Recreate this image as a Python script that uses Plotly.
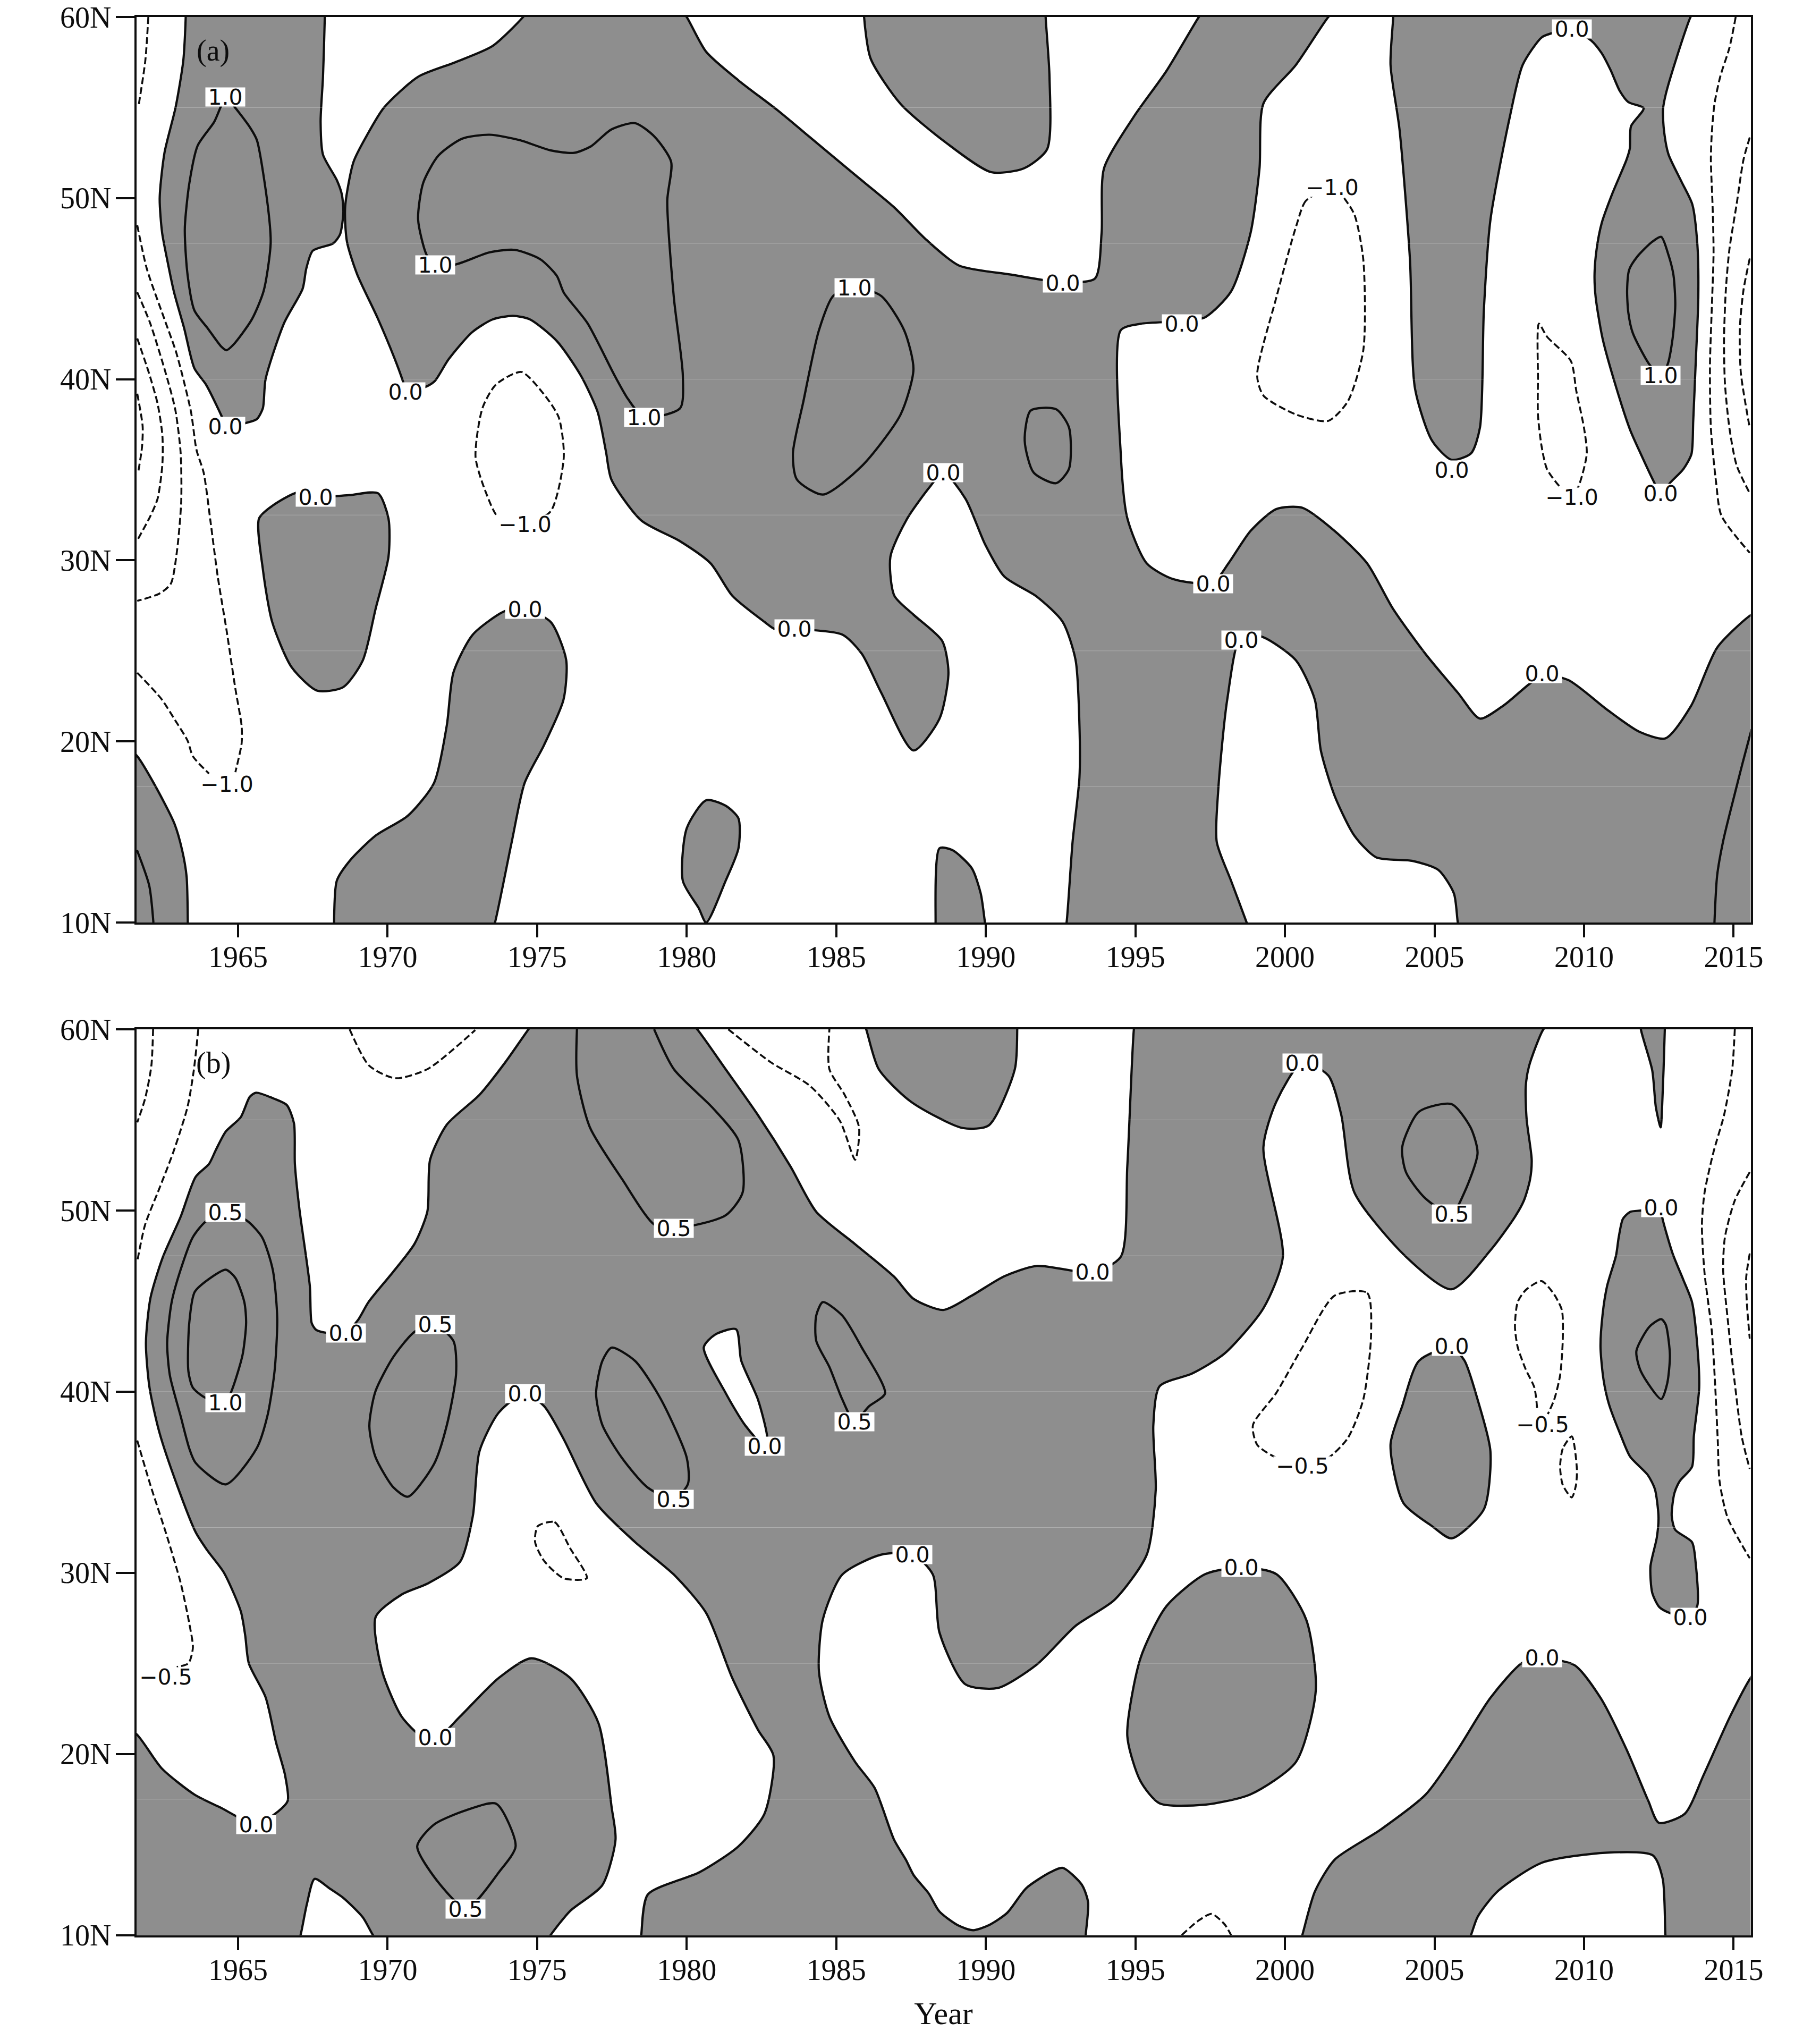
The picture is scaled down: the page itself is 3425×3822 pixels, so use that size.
import plotly.graph_objects as go

# ---------- axis content ----------
YEAR_TICKS = [1965, 1970, 1975, 1980, 1985, 1990, 1995, 2000, 2005, 2010, 2015]
LAT_TICKS = [10, 20, 30, 40, 50, 60]
LAT_TEXT = ["10N", "20N", "30N", "40N", "50N", "60N"]
SEAM_LATS = [55, 47.5, 40, 32.5, 25, 17.5]

# ---------- panel (a): shaded regions (year, latitude) ----------
A_MAIN = [(1974.53,60),(1974.7,60.4),(1979.8,60.4),(1980,60),(1980.65,58.08),(1981.73,56.5),(1983.03,54.86),(1984.33,53.07),(1985.63,51.28),(1986.93,49.5),(1988.01,47.7),(1989.1,46.28),(1990.83,45.78),(1992.57,45.35),(1993.65,45.56),(1993.87,48.07),(1993.95,51.64),(1994.95,54.5),(1996.03,57),(1997.12,60),(1997.3,60.4),(2001.7,60.4),(2001.45,60),(2000.37,57.36),(1999.28,55.22),(1999.15,51.64),(1998.85,48.07),(1998.2,44.85),(1997.33,43.42),(1996.55,43.2),(1995.17,43.06),(1994.51,42.7),(1994.51,35.91),(1994.73,32.33),(1995.38,29.83),(1996.25,28.97),(1997.59,28.76),(1998.11,29.83),(1998.85,31.62),(1999.71,32.83),(2000.58,32.9),(2001.66,31.62),(2002.75,29.83),(2003.61,27.33),(2004.7,24.83),(2005.78,22.69),(2006.52,21.26),(2007.3,21.97),(2008.6,23.62),(2009.47,23.39),(2010.77,21.75),(2011.85,20.53),(2012.72,20.17),(2013.58,21.97),(2014.45,25.18),(2015.57,26.97),(2016,27.3),(2016,9.6),(2005.85,9.6),(2005.78,10),(2005.65,11.6),(2005.13,12.9),(2004.27,13.4),(2003.05,13.6),(2002.32,14.8),(2001.66,17),(2001.2,19.5),(2001,22.3),(2000.37,24.47),(1999.28,25.75),(1998.55,25.9),(1998.07,22.3),(1997.77,17.3),(1997.72,14.45),(1998.2,12.3),(1998.72,10),(1998.8,9.6),(1992.65,9.6),(1992.7,10),(1992.9,14.45),(1993.13,18),(1993.13,20.9),(1993,24.5),(1992.57,26.6),(1991.7,28),(1990.62,29.1),(1989.97,30.9),(1989.32,33.4),(1988.58,34.85),(1988.15,34.1),(1987.37,32.3),(1986.81,30.2),(1986.94,28.05),(1987.58,27),(1988.54,25.55),(1988.75,23.8),(1988.45,21.25),(1987.58,19.5),(1986.5,22.7),(1985.85,24.85),(1985.2,25.9),(1983.6,26.2),(1982.95,26.2),(1982.6,26.6),(1981.52,28.05),(1980.8,29.83),(1979.78,31.05),(1978.48,32.2),(1977.48,34.47),(1977.3,36),(1977.02,38.2),(1976.46,40.2),(1975.66,42.1),(1974.76,43.3),(1974.19,43.5),(1973.51,43.3),(1972.83,42.6),(1972.04,41.1),(1971.58,39.9),(1971.3,39.6),(1970.62,39.3),(1970.51,39.9),(1970.22,41.2),(1969.66,43.4),(1968.98,45.8),(1968.64,47.6),(1968.58,49.5),(1968.86,52),(1969.32,53.5),(1969.88,55),(1971.02,56.7),(1972.26,57.5),(1973.51,58.4),(1974.53,60)]
A_LEFT = [(1963.25,60.4),(1963.25,60),(1963.17,57.6),(1962.91,55),(1962.54,52.5),(1962.38,50),(1962.46,48.1),(1962.63,46.6),(1962.86,44.8),(1963.2,42.8),(1963.54,40.6),(1963.93,39.7),(1964.44,38),(1964.6,37.4),(1965.3,37.6),(1965.63,37.8),(1965.83,38.4),(1965.92,40),(1966.54,43.1),(1967.16,45),(1967.28,46.1),(1967.5,47.1),(1968.18,47.5),(1968.41,48),(1968.52,49.2),(1968.47,50.2),(1968.3,51),(1967.84,52.4),(1967.76,54.2),(1967.84,56.7),(1967.9,60),(1967.9,60.4),(1963.25,60.4)]
A_TOPMID = [(1985.93,60.4),(1985.93,60),(1986.15,57.7),(1987.15,55.2),(1988.66,53.07),(1990.18,51.43),(1991.27,51.64),(1992.05,52.7),(1992.13,56.65),(1992,60),(1992,60.4),(1985.93,60.4)]
A_TOPRIGHT = [(2003.62,60.4),(2013.7,60.4),(2013.56,60),(2013.08,57.68),(2012.73,55.72),(2012.64,54.9),(2012.67,53.77),(2012.82,52.43),(2013.26,50.9),(2013.62,49.65),(2013.79,47.4),(2013.82,44.5),(2013.73,40.8),(2013.65,37.7),(2013.59,35.86),(2013.32,35.04),(2012.9,34.32),(2012.56,33.7),(2012.34,34.32),(2011.9,35.86),(2011.54,37.2),(2011.07,39.57),(2010.62,42.24),(2010.39,44.5),(2010.35,45.74),(2010.42,47.18),(2010.59,48.62),(2010.95,50.27),(2011.42,52.12),(2011.53,52.74),(2011.57,53.97),(2011.99,54.96),(2011.48,55.3),(2011.19,55.93),(2010.89,57.06),(2010.59,58),(2010.24,58.7),(2009.59,59.32),(2008.91,59.1),(2008.58,58.87),(2007.95,57.36),(2007.52,54.5),(2006.87,48.8),(2006.65,43.8),(2006.52,37.33),(2006.22,35.9),(2005.57,35.55),(2004.92,36.6),(2004.35,39.47),(2004.18,46.6),(2003.83,53.8),(2003.53,57.36),(2003.62,60),(2003.62,60.4)]
A_BOT1 = [(1968.21,9.6),(1968.21,10),(1968.3,12.3),(1968.73,13.4),(1969.6,14.8),(1970.68,15.9),(1971.55,17.7),(1971.98,20.9),(1972.2,23.8),(1972.85,25.9),(1973.93,27.2),(1974.58,27.3),(1975.45,26.6),(1975.97,24.5),(1975.88,22.3),(1975.23,19.8),(1974.58,17.7),(1974.15,14.45),(1973.59,10),(1973.5,9.6),(1968.21,9.6)]
A_BOT2 = [(1979.87,12.3),(1980,15.2),(1980.65,16.75),(1981.3,16.45),(1981.73,15.75),(1981.73,14.1),(1981.3,12.3),(1980.65,10),(1980.4,10.8),(1979.87,12.3)]
A_BOT3 = [(1988.32,9.6),(1988.32,10),(1988.45,14.1),(1988.88,14),(1989.53,13),(1989.83,11.6),(1989.97,10),(1990,9.6),(1988.32,9.6)]
A_OVAL = [(1965.7,32.3),(1966.14,33),(1967,33.75),(1967.65,33.5),(1968.73,33.6),(1969.68,33.7),(1970.03,32.3),(1970.03,30.2),(1969.6,27.33),(1969.17,24.47),(1968.52,23),(1967.65,22.8),(1966.79,24.1),(1966.14,26.6),(1965.83,29.5),(1965.7,32.3)]
A_CORNER = [(1961.2,19.8),(1961.63,19.18),(1962.19,17.67),(1962.87,15.47),(1963.13,14),(1963.28,12.54),(1963.32,10),(1963.32,9.6),(1961.2,9.6),(1961.2,19.8)]
A_SHADED = [A_MAIN, A_LEFT, A_TOPMID, A_TOPRIGHT, A_BOT1, A_BOT2, A_BOT3, A_OVAL, A_CORNER]

# ---------- panel (a): solid contours inside the shading ----------
A_S1 = [(1964.6,55.55),(1964.2,54.2),(1963.65,52.9),(1963.37,50.8),(1963.22,48.3),(1963.31,45.8),(1963.54,43.8),(1963.99,42.8),(1964.44,41.8),(1964.61,41.6),(1964.84,41.9),(1965.46,43.3),(1965.86,44.9),(1966.09,47.5),(1966,49.5),(1965.63,53.2),(1965.4,53.9),(1964.9,55),(1964.6,55.55)]
A_S2 = [(1971.58,46.3),(1971.3,46.88),(1971.02,48.82),(1971.19,50.84),(1971.7,52.35),(1972.49,53.28),(1973.4,53.5),(1974.42,53.2),(1975.44,52.64),(1976.23,52.5),(1976.8,52.86),(1977.48,53.79),(1978.27,54.14),(1978.92,53.4),(1979.48,52),(1979.35,49.85),(1979.57,44.5),(1979.87,40.2),(1979.78,38.4),(1978.57,37.9),(1978.04,38.9),(1977.59,40.2),(1976.68,43.1),(1975.89,44.78),(1975.66,45.7),(1975.1,46.63),(1974.25,47.14),(1973.4,47),(1972.26,46.33),(1971.58,46.3)]
A_S3 = [(1985.63,45.06),(1986.5,44.6),(1987.27,42.7),(1987.58,40.55),(1987.15,38.05),(1985.85,35.2),(1984.55,33.63),(1983.68,34.47),(1983.55,35.9),(1983.9,38.77),(1984.42,42.7),(1984.9,44.6),(1985.63,45.06)]
A_S4 = [(1991.5,38.27),(1992.35,38.34),(1992.78,37.34),(1992.78,35.05),(1992.35,34.26),(1991.6,34.84),(1991.3,36.6),(1991.5,38.27)]
A_S5 = [(2012.58,47.86),(2012.28,47.59),(2011.78,46.77),(2011.51,46.05),(2011.44,44.92),(2011.48,43.68),(2011.63,42.55),(2012.19,40.8),(2012.56,40.19),(2012.79,40.8),(2012.96,42.24),(2013.05,44.1),(2012.99,45.74),(2012.82,46.87),(2012.58,47.86)]
A_S6 = [(2014.36,10),(2014.45,12.6),(2014.66,14.57),(2015.01,16.92),(2015.3,18.8),(2015.6,20.67)]
A_S7 = [(1961.62,14),(1962.03,12.04),(1962.17,10)]
A_SOLID = [A_S1, A_S2, A_S3, A_S4, A_S5, A_S6, A_S7]

# ---------- panel (a): dashed contours ----------
A_D1 = [(1962,60),(1961.9,57.6),(1961.67,55.05)]
A_D2 = [(1961.63,39.2),(1961.81,37.4),(1961.79,36.27),(1961.66,34.84)]
A_D3 = [(1961.63,42.25),(1962.01,40.4),(1962.31,38.65),(1962.47,36.9),(1962.47,35.3),(1962.31,33.4),(1962.07,32.45),(1961.63,31.1)]
A_D4 = [(1961.63,44.8),(1962.06,43.1),(1962.57,40.4),(1962.9,38.33),(1963.08,35.95),(1963.1,33.25),(1962.96,30.54),(1962.75,28.7),(1962.37,28.16),(1961.63,27.76)]
A_D5 = [(1961.63,48.5),(1961.95,46.1),(1962.52,43.4),(1962.91,41.6),(1963.11,40.4),(1963.43,38.17),(1963.61,36.1),(1963.85,34.84),(1964.08,32.13),(1964.32,29.11),(1964.62,26.09),(1964.91,22.91),(1965.12,20.84),(1965.12,19.9),(1964.91,18.3)]
A_D6 = [(1961.63,23.79),(1962.43,22.36),(1962.9,21.16),(1963.31,20.05),(1963.49,19.18),(1964.03,18.22)]
A_D7 = [(1974.47,40.4),(1973.62,39.7),(1973.17,38.4),(1972.94,35.7),(1973.28,33.77),(1973.72,32.33),(1974.6,32),(1975.45,32.7),(1975.89,35.7),(1975.72,37.9),(1975.21,39.2),(1974.47,40.4)]
A_D8 = [(2001.58,50.6),(2000.7,49.85),(2000.37,48.42),(1999.71,44.5),(1999.07,40.2),(1999.28,39.1),(2000.37,38.05),(2001.45,37.7),(2002.1,38.77),(2002.62,41.6),(2002.62,46.6),(2002.32,49.1),(2001.88,50.2),(2001.58,50.6)]
A_D9 = [(2008.49,43.07),(2008.76,42.35),(2009.56,41),(2009.74,39.36),(2010,37.3),(2010.09,35.86),(2009.82,34.1),(2009.59,33.5),(2009.17,34.1),(2008.76,35.04),(2008.58,36.3),(2008.46,38),(2008.46,40),(2008.49,43.07)]
A_D10 = [(2015.07,60),(2014.86,58.3),(2014.56,56.75),(2014.36,55.2),(2014.27,53.56),(2014.24,52.12),(2014.3,49.44),(2014.33,46.97),(2014.27,43.89),(2014.21,40.8),(2014.24,37.3),(2014.42,34.22),(2014.59,32.47),(2015.54,30.41)]
A_D11 = [(2015.54,53.35),(2015.33,52.12),(2015.1,49.65),(2014.86,47.18),(2014.74,44.92),(2014.68,42.24),(2014.71,39.77),(2014.86,37.3),(2015.1,35.25),(2015.54,33.7)]
A_D12 = [(2015.54,46.67),(2015.33,44.92),(2015.21,42.86),(2015.24,40.39),(2015.54,37.3)]
A_DASHED = [A_D1, A_D2, A_D3, A_D4, A_D5, A_D6, A_D7, A_D8, A_D9, A_D10, A_D11, A_D12]

# ---------- panel (a): contour labels ----------
A_LABELS = [("1.0",1964.58,55.57),("0.0",1964.58,37.4),("1.0",1971.6,46.3),("0.0",1970.6,39.3),("1.0",1978.57,37.9),("0.0",1967.6,33.5),("\u22121.0",1974.6,32),("0.0",1974.6,27.3),("0.0",1983.6,26.2),("1.0",1985.6,45.05),("0.0",1988.58,34.85),("0.0",1992.57,45.3),("0.0",1996.55,43.05),("0.0",1997.6,28.7),("0.0",1998.55,25.6),("\u22121.0",2001.58,50.6),("0.0",2005.57,35),("0.0",2008.6,23.75),("0.0",2009.6,59.35),("\u22121.0",2009.6,33.5),("0.0",2012.56,33.7),("1.0",2012.56,40.2),("\u22121.0",1964.62,17.63)]

# ---------- panel (b): shaded regions ----------
B_MAIN = [(1974.71,60),(1974.9,60.4),(1980.1,60.4),(1980.35,60),(1981.3,57.8),(1982.38,55.27),(1983.47,52.43),(1984.33,49.93),(1985.63,48.14),(1986.93,46.35),(1987.58,45.13),(1988.58,44.51),(1989.53,45.3),(1990.62,46.37),(1991.7,46.94),(1993.56,46.59),(1994.51,47.44),(1994.73,52.45),(1994.95,60),(1995,60.4),(2008.9,60.4),(2008.64,60),(2008.16,57.96),(2008.05,56.83),(2008.08,55.04),(2008.25,52.79),(2008.19,51.67),(2007.99,50.55),(2007.69,49.65),(2006.87,47.8),(2005.57,45.65),(2004.05,47.44),(2002.32,51),(2001.88,55.3),(2001.45,57.45),(2000.58,58.17),(1999.71,56),(1999.28,53.5),(1999.93,47.44),(1999.28,44.6),(1997.98,42.1),(1996.9,41),(1995.81,40.3),(1995.6,38.15),(1995.68,34.57),(1995.38,31),(1994.3,28.5),(1993,27.07),(1991.7,24.93),(1990.4,23.64),(1989.31,23.85),(1988.45,26.7),(1988.23,29.9),(1987.58,31),(1986.5,31),(1985.2,29.9),(1984.55,27.42),(1984.42,24.56),(1984.77,22.06),(1985.63,19.56),(1986.28,18.13),(1986.93,15.27),(1987.33,14.15),(1987.59,13.3),(1988.09,12.3),(1988.45,11.3),(1989.08,10.53),(1989.58,10.27),(1990.08,10.53),(1990.71,11.22),(1991.35,12.59),(1992.16,13.47),(1992.57,13.71),(1993.21,12.78),(1993.42,11.8),(1993.34,10),(1993.34,9.6),(1978.45,9.6),(1978.48,10),(1978.7,12.24),(1980.43,13.47),(1981.73,14.9),(1982.6,16.7),(1982.9,19.9),(1982.38,21.34),(1981.52,24.2),(1980.65,27.78),(1979.57,29.9),(1978.27,31.7),(1976.97,33.85),(1975.88,37.4),(1975.23,39.2),(1974.58,39.9),(1973.72,38.85),(1973.07,36.7),(1972.85,33.14),(1972.42,30.6),(1971.33,29.4),(1970.47,28.8),(1969.6,27.56),(1969.82,24.56),(1970.47,22.06),(1971.12,21),(1971.68,20.9),(1972.42,22.06),(1973.72,24.2),(1974.8,25.28),(1976.1,24.2),(1977.05,21.7),(1977.49,17.05),(1977.62,15.27),(1977.18,12.76),(1976.1,11.33),(1975.45,10),(1975.3,9.6),(1969.7,9.6),(1969.51,10),(1969.17,10.98),(1968.52,12.05),(1968.08,12.55),(1967.56,13.1),(1967.3,11.7),(1967.09,10),(1967,9.6),(1961.2,9.6),(1961.2,21.4),(1961.6,21.1),(1962.45,19.2),(1963.54,17.76),(1964.4,17.05),(1965.6,16.12),(1966.35,16.84),(1966.66,17.41),(1966.57,18.84),(1966.27,20.63),(1965.92,23.13),(1965.36,25),(1965.24,26.53),(1965.09,27.88),(1964.53,30),(1963.97,31.24),(1963.58,32.25),(1962.96,34.84),(1962.37,37.75),(1962.04,40.22),(1961.92,42.69),(1962.07,45.16),(1962.48,47.4),(1963.08,49.65),(1963.58,51.85),(1964.03,52.57),(1964.26,53.35),(1964.59,54.36),(1965.09,55.15),(1965.39,56.27),(1965.6,56.5),(1966.22,56.16),(1966.63,55.82),(1966.87,54.81),(1966.9,52.57),(1967.05,50.1),(1967.4,45.83),(1967.46,43.8),(1967.61,43.41),(1967.94,43.25),(1968.59,43.25),(1969,43.93),(1969.36,44.94),(1970.19,46.62),(1970.9,48.16),(1971.33,49.95),(1971.42,52.8),(1971.98,54.74),(1973.07,56.38),(1973.93,58.17),(1974.71,60)]
B_TOPMID = [(1985.9,60.4),(1986,60),(1986.42,57.8),(1987.5,56),(1989.23,54.55),(1990.1,54.7),(1990.97,57.8),(1991.05,60),(1991.05,60.4),(1985.9,60.4)]
B_G1 = [(1998.55,30.3),(1999.72,29.92),(2000.71,27.42),(2001.03,23.5),(2000.37,19.56),(1998.85,17.77),(1997.33,17.2),(1995.81,17.27),(1995.17,18.5),(1994.73,21),(1995.17,25.28),(1996.03,28.14),(1997.33,29.92),(1998.55,30.3)]
B_G2 = [(2005.57,42.44),(2006,41.72),(2006.44,39.57),(2006.87,36.7),(2006.65,33.5),(2005.57,31.9),(2004.92,32.57),(2003.96,33.85),(2003.53,37.07),(2003.92,39.2),(2004.48,41.7),(2005.57,42.44)]
B_G3 = [(2012.58,50.17),(2011.93,50),(2011.54,49.92),(2011.3,49.54),(2011.16,48.53),(2011.07,47.52),(2010.77,45.83),(2010.62,44.26),(2010.55,42.47),(2010.65,40.67),(2010.83,39.32),(2011.24,37.53),(2011.54,36.41),(2012.13,35.4),(2012.37,34.61),(2012.49,33.04),(2012.43,31.92),(2012.22,30.35),(2012.28,28.89),(2012.52,28.1),(2012.9,27.76),(2013.55,27.54),(2013.79,28.21),(2013.73,30.57),(2013.61,31.69),(2013.05,32.37),(2012.93,33.15),(2013.02,34.39),(2013.2,35.06),(2013.61,35.85),(2013.67,37.53),(2013.85,40.22),(2013.79,42.47),(2013.61,44.94),(2013.32,46.17),(2012.96,47.63),(2012.61,49.65),(2012.58,50.17)]
B_G4 = [(2011.9,60.4),(2011.9,60),(2012.28,57.73),(2012.4,55.71),(2012.56,54.59),(2012.61,55.71),(2012.7,60),(2012.7,60.4),(2011.9,60.4)]
B_G5 = [(2000.5,9.6),(2000.58,10),(2001,12.4),(2001.66,14.16),(2003.18,15.8),(2004.7,17.75),(2005.78,20.25),(2006.87,23.1),(2007.95,25.05),(2008.6,25.28),(2009.68,24.9),(2010.55,23.1),(2011.42,20.25),(2012.15,17.4),(2012.5,16.2),(2013.37,16.7),(2014,18.85),(2014.88,22.06),(2015.57,24.2),(2016,25),(2016,9.6),(2012.75,9.6),(2012.72,10),(2012.63,13.1),(2012.3,14.4),(2010.77,14.55),(2008.6,14),(2007.1,12.4),(2006.44,11),(2006.22,10),(2006.1,9.6),(2000.5,9.6)]
B_SHADED = [B_MAIN, B_TOPMID, B_G1, B_G2, B_G3, B_G4, B_G5]
B_HOLE = [(1980.57,42.44),(1980.95,43.15),(1981.65,43.44),(1981.82,41.72),(1982.38,39.57),(1982.69,37.43),(1982.6,37),(1981.95,38.15),(1981.3,39.93),(1980.57,42.44)]

# ---------- panel (b): solid contours ----------
B_S1 = [(1964.59,49.92),(1965.3,49.43),(1965.8,48.53),(1966.16,46.73),(1966.31,44.04),(1966.22,41.12),(1965.98,38.65),(1965.62,36.86),(1964.59,34.88),(1963.58,36.07),(1963.37,36.86),(1963.08,38.65),(1962.72,40.9),(1962.63,42.69),(1962.78,44.94),(1963.08,46.73),(1963.49,48.53),(1963.91,49.38),(1964.59,49.92)]
B_S2 = [(1964.59,39.44),(1964.8,40.11),(1965.15,42.02),(1965.27,43.81),(1965.21,44.94),(1964.91,46.28),(1964.59,46.73),(1964.08,46.28),(1963.55,45.5),(1963.37,43.81),(1963.34,41.12),(1963.49,40.22),(1963.91,39.66),(1964.59,39.44)]
B_S3 = [(1971.55,43.72),(1972.2,42.8),(1972.29,41),(1971.98,38.15),(1971.55,36),(1970.68,34.2),(1970.19,34.72),(1969.59,36.41),(1969.39,38.09),(1969.59,40),(1970.19,41.91),(1970.9,43.3),(1971.55,43.72)]
B_S4 = [(1977.49,42.43),(1978.27,41.7),(1979.13,39.6),(1980,36.35),(1980.04,34.9),(1979.57,34.07),(1978.7,34.7),(1977.83,36.35),(1977.18,38.15),(1976.97,39.9),(1977.18,41.7),(1977.49,42.43)]
B_S5 = [(1984.55,44.94),(1985.2,44.2),(1985.85,42.44),(1986.63,39.9),(1986.1,39.2),(1985.6,38.37),(1985.2,39.57),(1984.77,41.36),(1984.33,42.8),(1984.33,44.2),(1984.55,44.94)]
B_S6 = [(1970.99,14.9),(1971.55,16.1),(1972.64,16.9),(1973.63,17.25),(1974.28,14.9),(1973.72,13.47),(1972.64,11.47),(1971.77,12.76),(1970.99,14.9)]
B_S7 = [(1976.33,60),(1976.33,57.45),(1976.76,54.6),(1977.84,51.73),(1978.91,49.23),(1979.57,49),(1981.3,49.73),(1981.87,51),(1981.73,53.87),(1980.87,55.66),(1979.57,57.8),(1978.91,60)]
B_S8 = [(2003.92,53.5),(2004.48,55.45),(2005.57,55.87),(2006.2,54.6),(2006.44,53.17),(2006,51),(2005.57,49.8),(2004.7,50.66),(2004.05,52.1),(2003.92,53.5)]
B_S9 = [(2012.58,44),(2012.19,43.59),(2011.75,42.24),(2011.9,41.12),(2012.58,39.59),(2012.78,40.45),(2012.87,42.02),(2012.73,43.7),(2012.58,44)]
B_SOLID = [B_S1, B_S2, B_S3, B_S4, B_S5, B_S6, B_S7, B_S8, B_S9]

# ---------- panel (b): dashed contours ----------
B_D1 = [(1962.16,60),(1962.1,57.96),(1961.89,56.16),(1961.63,54.86)]
B_D2 = [(1963.67,60),(1963.52,57.73),(1963.31,55.71),(1962.84,53.24),(1962.37,51.22),(1961.89,49.2),(1961.63,47.18)]
B_D3 = [(1961.63,37.3),(1962.07,34.84),(1962.6,32.14),(1963.08,29.45),(1963.37,27.2),(1963.49,25.86),(1963.34,25),(1962.95,24.8)]
B_D4 = [(1968.73,60),(1969.38,58),(1970.25,57.3),(1971.33,57.8),(1972.93,59.96)]
B_D5 = [(1981.39,60),(1982.82,58.17),(1984.12,56.88),(1985.12,54.95),(1985.63,52.8),(1985.76,54.6),(1985.28,56.38),(1984.77,57.8),(1984.77,60)]
B_D6 = [(1996.55,10),(1997.11,10.8),(1997.55,11.17),(1997.98,10.6),(1998.2,10)]
B_D7 = [(2001.66,45.3),(2002.75,45.45),(2002.88,43.15),(2002.62,39.57),(2002.1,37.43),(2001.45,36.35),(2000.58,35.9),(1999.71,36.35),(1999.07,37.07),(1998.93,38.15),(1999.71,39.93),(2000.58,42.44),(2001.66,45.3)]
B_D8 = [(1975.02,32.57),(1975.58,32.8),(1976.1,31.36),(1976.66,29.7),(1975.88,29.7),(1975.23,30.66),(1974.93,31.7),(1975.02,32.57)]
B_D9 = [(2008.43,39.1),(2008.34,40.22),(2008.05,41.23),(2007.78,42.47),(2007.69,43.59),(2007.78,44.94),(2008.05,45.61),(2008.58,46.1),(2008.99,45.39),(2009.26,44.49),(2009.29,42.92),(2009.2,40.9),(2009,39.55),(2008.79,38.76)]
B_D10 = [(2009.59,37.53),(2009.29,36.86),(2009.2,35.85),(2009.29,34.84),(2009.59,34.16),(2009.73,34.84),(2009.76,35.73),(2009.59,37.53)]
B_D11 = [(2015.04,60),(2014.95,57.73),(2014.68,55.26),(2014.33,53.24),(2014.03,51),(2013.94,49.2),(2014.03,46.51),(2014.27,43.36),(2014.38,40.45),(2014.47,37.3),(2014.53,35.06),(2014.8,33.04),(2015.54,30.8)]
B_D12 = [(2015.54,52.12),(2015.04,50.55),(2014.71,48.53),(2014.65,46.73),(2014.8,44.04),(2015.04,40.45),(2015.27,37.53),(2015.54,35.73)]
B_D13 = [(2015.54,47.63),(2015.42,46.28),(2015.45,44.71),(2015.54,42.92)]
B_DASHED = [B_D1, B_D2, B_D3, B_D4, B_D5, B_D6, B_D7, B_D8, B_D9, B_D10, B_D11, B_D12, B_D13]

# ---------- panel (b): contour labels ----------
B_LABELS = [("0.5",1964.58,49.9),("1.0",1964.58,39.4),("0.0",1968.6,43.25),("0.5",1971.6,43.7),("0.0",1974.6,39.9),("0.5",1979.57,49),("0.0",1982.6,37),("0.5",1985.6,38.35),("0.5",1979.57,34.05),("0.0",1987.55,31),("0.0",1993.56,46.6),("0.0",2000.58,58.15),("\u22120.5",2000.58,35.9),("0.5",2005.57,49.8),("0.0",2005.57,42.5),("\u22120.5",2008.61,38.2),("0.0",2012.58,50.17),("0.0",2013.55,27.54),("0.0",1998.55,30.3),("0.0",2008.6,25.3),("0.0",1971.6,20.9),("0.0",1965.6,16.1),("0.5",1972.6,11.45),("\u22120.5",1962.58,24.27)]

# ---------- styles ----------
GRAY = "#8e8e8e"
INK = "#0d0d0d"
SERIF = "Liberation Serif"
W, H = 3425, 3822

fig = go.Figure()


def add_curve(points, ax, dashed=False, fill=None):
    line = dict(color=INK, width=4.2, shape="spline", smoothing=0.7, simplify=False)
    if dashed:
        line["dash"] = "13px,6px"
        line["width"] = 3.6
    fig.add_trace(go.Scatter(
        x=[p[0] for p in points], y=[p[1] for p in points], mode="lines",
        line=line, fill="toself" if fill else "none", fillcolor=fill,
        xaxis=ax[0], yaxis=ax[1], showlegend=False, hoverinfo="skip"))


def add_seams(ax):
    xs, ys = [], []
    for lat in SEAM_LATS:
        xs += [1961.6, 2015.57, None]
        ys += [lat, lat, None]
    fig.add_trace(go.Scatter(x=xs, y=ys, mode="lines",
                             line=dict(color="rgba(255,255,255,0.28)", width=1),
                             xaxis=ax[0], yaxis=ax[1], showlegend=False, hoverinfo="skip"))


def add_panel(shaded, holes, solid, dashed, labels, ax, tag):
    for poly in shaded:
        add_curve(poly, ax, fill=GRAY)
    add_seams(ax)
    for poly in holes:
        add_curve(poly, ax, fill="#ffffff")
    for c in solid:
        add_curve(c, ax)
    for c in dashed:
        add_curve(c, ax, dashed=True)
    for text, x, y in labels:
        fig.add_annotation(x=x, y=y, xref=ax[0], yref=ax[1], text=text, showarrow=False,
                           font=dict(family="DejaVu Sans", size=41, color=INK),
                           bgcolor="#ffffff", borderpad=0,
                           width=108 if text.startswith("\u2212") else 74, height=35,
                           xanchor="center", yanchor="middle")
    fig.add_annotation(x=1964.17, y=58.15, xref=ax[0], yref=ax[1], text=tag, showarrow=False,
                       font=dict(family=SERIF, size=56, color=INK),
                       xanchor="center", yanchor="middle")


add_panel(A_SHADED, [], A_SOLID, A_DASHED, A_LABELS, ("x", "y"), "(a)")
add_panel(B_SHADED, [B_HOLE], B_SOLID, B_DASHED, B_LABELS, ("x2", "y2"), "(b)")

xaxis_style = dict(range=[1961.6, 2015.57], tickmode="array", tickvals=YEAR_TICKS,
                   ticktext=[str(v) for v in YEAR_TICKS], ticks="outside", ticklen=24, tickwidth=4,
                   tickcolor=INK, showline=True, linewidth=4, linecolor=INK, mirror=True,
                   showgrid=False, zeroline=False, fixedrange=True, automargin=False,
                   ticklabelstandoff=-11,
                   tickfont=dict(family=SERIF, size=56, color=INK))
yaxis_style = dict(range=[10, 60], tickmode="array", tickvals=LAT_TICKS, ticktext=LAT_TEXT,
                   ticks="outside", ticklen=35, tickwidth=4, tickcolor=INK, showline=True,
                   linewidth=4, linecolor=INK, mirror=True, showgrid=False, zeroline=False,
                   fixedrange=True, automargin=False, ticklabelstandoff=-3,
                   tickfont=dict(family=SERIF, size=56, color=INK))

x_dom = [256.6 / W, 3294.5 / W]
fig.update_layout(
    width=W, height=H, autosize=False, margin=dict(l=0, r=0, t=0, b=0),
    paper_bgcolor="#ffffff", plot_bgcolor="#ffffff", showlegend=False,
    xaxis=dict(domain=x_dom, anchor="y", **xaxis_style),
    yaxis=dict(domain=[1 - 1736 / H, 1 - 32 / H], anchor="x", **yaxis_style),
    xaxis2=dict(domain=x_dom, anchor="y2",
                title=dict(text="Year", font=dict(family=SERIF, size=60, color=INK), standoff=36),
                **xaxis_style),
    yaxis2=dict(domain=[1 - 3641.5 / H, 1 - 1937 / H], anchor="x2", **yaxis_style),
)

fig.write_html("out.html", config={"displayModeBar": False},
               post_script="document.body.style.margin='0';")
